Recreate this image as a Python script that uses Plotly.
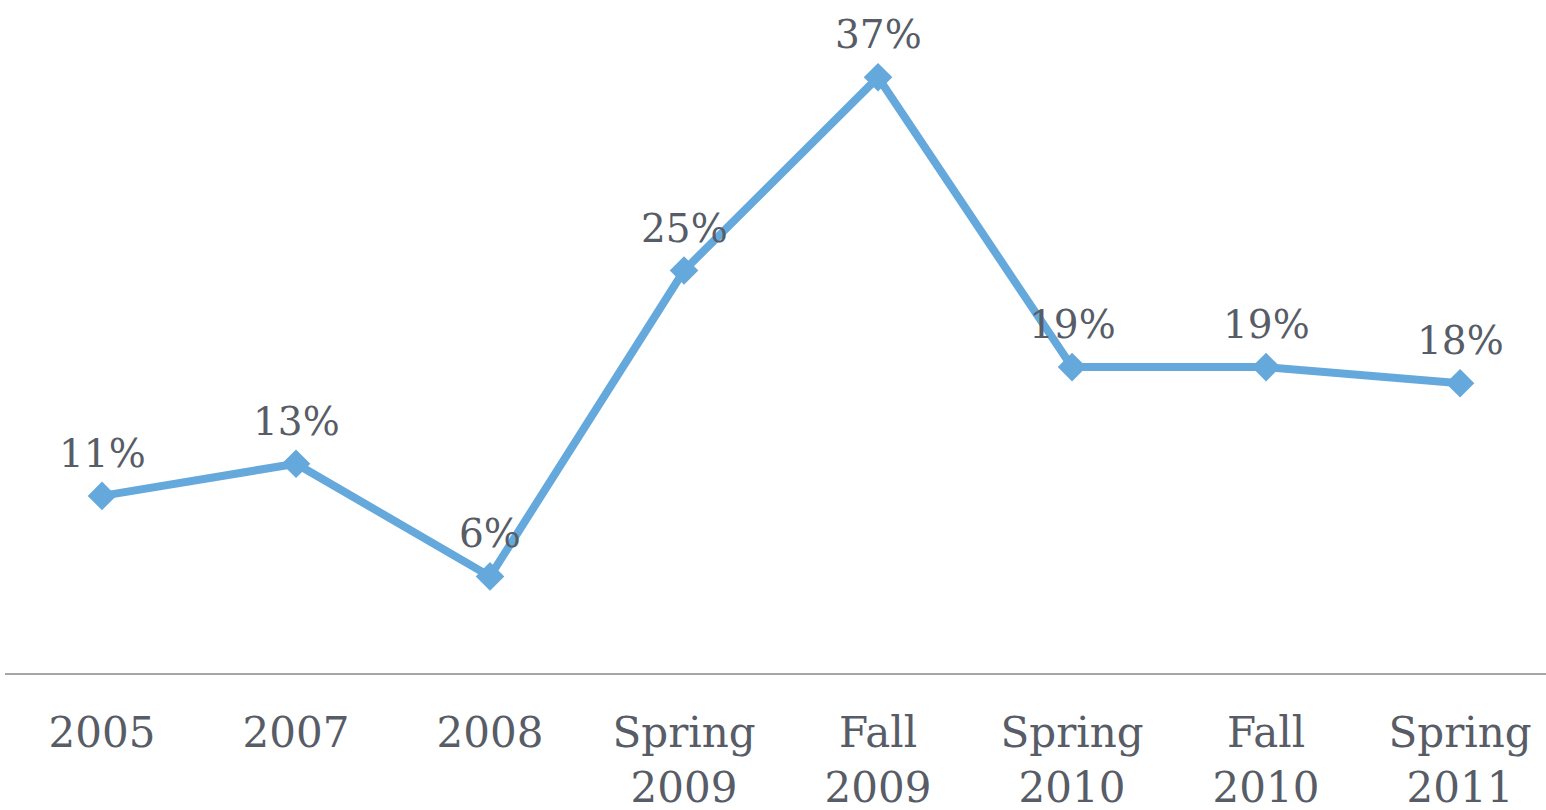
import plotly.graph_objects as go

categories = ["2005", "2007", "2008", "Spring<br>2009", "Fall<br>2009", "Spring<br>2010", "Fall<br>2010", "Spring<br>2011"]
values = [11, 13, 6, 25, 37, 19, 19, 18]
labels = ["11%", "13%", "6%", "25%", "37%", "19%", "19%", "18%"]

LINE = "#65a9dc"
TEXT = "#575c66"
FONT = "DejaVu Serif"

x = list(range(len(categories)))
fig = go.Figure()
fig.add_trace(go.Scatter(
    x=x, y=values, mode="lines+markers",
    line=dict(color=LINE, width=8),
    marker=dict(symbol="diamond", size=22, color=LINE),
    cliponaxis=False, hoverinfo="skip",
))
for xi, v, t in zip(x, values, labels):
    fig.add_annotation(x=xi, y=v, text=t, showarrow=False,
                       xanchor="center", yanchor="bottom", yshift=18,
                       font=dict(family=FONT, size=39, color=TEXT))
fig.update_layout(
    width=1546, height=810,
    margin=dict(l=5, r=0, t=29, b=137),
    paper_bgcolor="white", plot_bgcolor="white",
    showlegend=False,
    xaxis=dict(range=[-0.5, 7.443], tickvals=x, ticktext=categories,
               showgrid=False, zeroline=False, showline=True,
               linecolor="#a6a6a6", linewidth=2, ticks="",
               automargin=False,
               ticklabelstandoff=22,
               tickfont=dict(family=FONT, size=42, color=TEXT)),
    yaxis=dict(range=[0, 40], visible=False, automargin=False),
)
fig.write_html("out.html", config={"displayModeBar": False},
               post_script="document.body.style.margin='0';document.body.style.overflow='hidden';")
